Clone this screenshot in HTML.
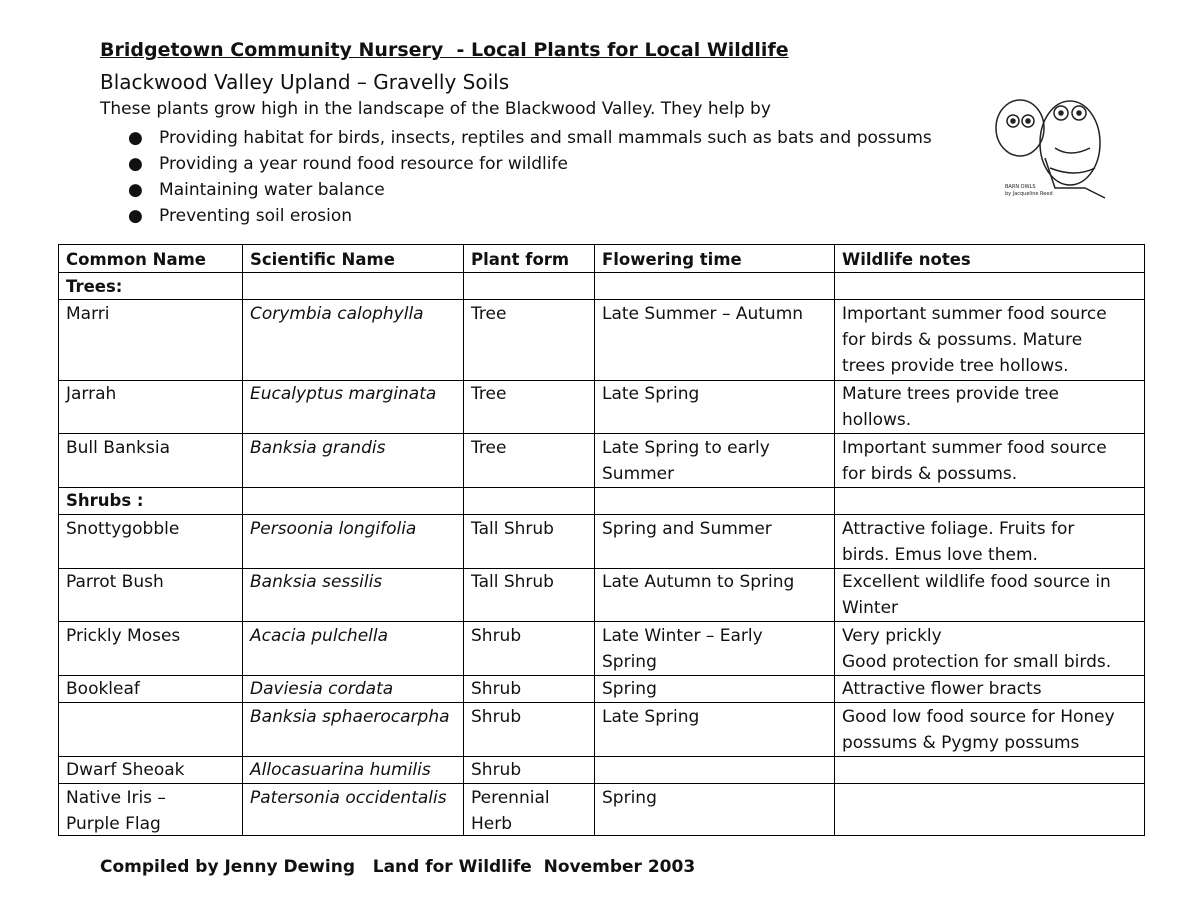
<!DOCTYPE html>
<html><head><meta charset="utf-8"><style>
body{margin:0;width:1200px;height:905px;background:#fff;font-family:"DejaVu Sans","Liberation Sans",sans-serif;color:#111;position:relative;overflow:hidden}
.a{position:absolute;white-space:nowrap}
.c{position:absolute;white-space:nowrap;font-size:17px;line-height:26px}
.b{font-weight:bold;font-size:16.5px}
.h{position:absolute;left:58px;width:1087px;height:1px;background:#000}
.v{position:absolute;top:244px;height:592px;width:1px;background:#000}
i{font-style:italic}
</style></head><body>
<div class="a" style="left:100px;top:39px;font-size:19px;font-weight:bold;text-decoration:underline">Bridgetown Community Nursery&nbsp; - Local Plants for Local Wildlife</div>
<div class="a" style="left:100px;top:70px;font-size:20px">Blackwood Valley Upland – Gravelly Soils</div>
<div class="a" style="left:100px;top:99px;font-size:17px">These plants grow high in the landscape of the Blackwood Valley. They help by</div>
<div class="a" style="left:128px;top:125px;font-size:17px;line-height:26px">●&nbsp;&nbsp; Providing habitat for birds, insects, reptiles and small mammals such as bats and possums<br>●&nbsp;&nbsp; Providing a year round food resource for wildlife<br>●&nbsp;&nbsp; Maintaining water balance<br>●&nbsp;&nbsp; Preventing soil erosion</div>
<svg class="a" style="left:985px;top:88px" width="135" height="115" viewBox="0 0 135 115" fill="none" stroke="#222" stroke-width="1.5">
<ellipse cx="35" cy="40" rx="24" ry="28"/><circle cx="28" cy="33" r="6"/><circle cx="43" cy="33" r="6"/>
<ellipse cx="85" cy="55" rx="30" ry="42"/><circle cx="76" cy="25" r="7"/><circle cx="94" cy="25" r="7"/>
<path d="M60 70 L70 100 L100 100 L120 110 M65 80 Q90 90 110 80 M70 60 Q85 70 105 60"/>
<circle cx="28" cy="33" r="2" fill="#222"/><circle cx="43" cy="33" r="2" fill="#222"/><circle cx="76" cy="25" r="2" fill="#222"/><circle cx="94" cy="25" r="2" fill="#222"/>
<text x="20" y="100" font-size="5" fill="#222" stroke="none">BARN OWLS</text><text x="20" y="107" font-size="5" fill="#222" stroke="none">by Jacqueline Reed</text>
</svg>

<div class="h" style="top:244px"></div><div class="h" style="top:272px"></div><div class="h" style="top:299px"></div><div class="h" style="top:380px"></div><div class="h" style="top:433px"></div><div class="h" style="top:487px"></div><div class="h" style="top:514px"></div><div class="h" style="top:568px"></div><div class="h" style="top:621px"></div><div class="h" style="top:675px"></div><div class="h" style="top:702px"></div><div class="h" style="top:756px"></div><div class="h" style="top:783px"></div><div class="h" style="top:835px"></div>
<div class="v" style="left:58px"></div><div class="v" style="left:242px"></div><div class="v" style="left:463px"></div><div class="v" style="left:594px"></div><div class="v" style="left:834px"></div><div class="v" style="left:1144px"></div>

<div class="c b" style="left:66px;top:247px">Common Name</div><div class="c b" style="left:250px;top:247px">Scientific Name</div><div class="c b" style="left:471px;top:247px">Plant form</div><div class="c b" style="left:602px;top:247px">Flowering time</div><div class="c b" style="left:842px;top:247px">Wildlife notes</div>
<div class="c b" style="left:66px;top:274px">Trees:</div>

<div class="c" style="left:66px;top:301px">Marri</div><div class="c" style="left:250px;top:301px"><i>Corymbia calophylla</i></div><div class="c" style="left:471px;top:301px">Tree</div><div class="c" style="left:602px;top:301px">Late Summer – Autumn</div><div class="c" style="left:842px;top:301px">Important summer food source<br>for birds &amp; possums. Mature<br>trees provide tree hollows.</div>

<div class="c" style="left:66px;top:381px">Jarrah</div><div class="c" style="left:250px;top:381px"><i>Eucalyptus marginata</i></div><div class="c" style="left:471px;top:381px">Tree</div><div class="c" style="left:602px;top:381px">Late Spring</div><div class="c" style="left:842px;top:381px">Mature trees provide tree<br>hollows.</div>

<div class="c" style="left:66px;top:435px">Bull Banksia</div><div class="c" style="left:250px;top:435px"><i>Banksia grandis</i></div><div class="c" style="left:471px;top:435px">Tree</div><div class="c" style="left:602px;top:435px">Late Spring to early<br>Summer</div><div class="c" style="left:842px;top:435px">Important summer food source<br>for birds &amp; possums.</div>

<div class="c b" style="left:66px;top:488px">Shrubs :</div>

<div class="c" style="left:66px;top:516px">Snottygobble</div><div class="c" style="left:250px;top:516px"><i>Persoonia longifolia</i></div><div class="c" style="left:471px;top:516px">Tall Shrub</div><div class="c" style="left:602px;top:516px">Spring and Summer</div><div class="c" style="left:842px;top:516px">Attractive foliage. Fruits for<br>birds. Emus love them.</div>

<div class="c" style="left:66px;top:569px">Parrot Bush</div><div class="c" style="left:250px;top:569px"><i>Banksia sessilis</i></div><div class="c" style="left:471px;top:569px">Tall Shrub</div><div class="c" style="left:602px;top:569px">Late Autumn to Spring</div><div class="c" style="left:842px;top:569px">Excellent wildlife food source in<br>Winter</div>

<div class="c" style="left:66px;top:623px">Prickly Moses</div><div class="c" style="left:250px;top:623px"><i>Acacia pulchella</i></div><div class="c" style="left:471px;top:623px">Shrub</div><div class="c" style="left:602px;top:623px">Late Winter – Early<br>Spring</div><div class="c" style="left:842px;top:623px">Very prickly<br>Good protection for small birds.</div>

<div class="c" style="left:66px;top:676px">Bookleaf</div><div class="c" style="left:250px;top:676px"><i>Daviesia cordata</i></div><div class="c" style="left:471px;top:676px">Shrub</div><div class="c" style="left:602px;top:676px">Spring</div><div class="c" style="left:842px;top:676px">Attractive flower bracts</div>

<div class="c" style="left:250px;top:704px"><i>Banksia sphaerocarpha</i></div><div class="c" style="left:471px;top:704px">Shrub</div><div class="c" style="left:602px;top:704px">Late Spring</div><div class="c" style="left:842px;top:704px">Good low food source for Honey<br>possums &amp; Pygmy possums</div>

<div class="c" style="left:66px;top:757px">Dwarf Sheoak</div><div class="c" style="left:250px;top:757px"><i>Allocasuarina humilis</i></div><div class="c" style="left:471px;top:757px">Shrub</div>

<div class="c" style="left:66px;top:785px">Native Iris –<br>Purple Flag</div><div class="c" style="left:250px;top:785px"><i>Patersonia occidentalis</i></div><div class="c" style="left:471px;top:785px">Perennial<br>Herb</div><div class="c" style="left:602px;top:785px">Spring</div>

<div class="a" style="left:100px;top:857px;font-size:17px;font-weight:bold">Compiled by Jenny Dewing&nbsp;&nbsp; Land for Wildlife&nbsp; November 2003</div>
</body></html>
